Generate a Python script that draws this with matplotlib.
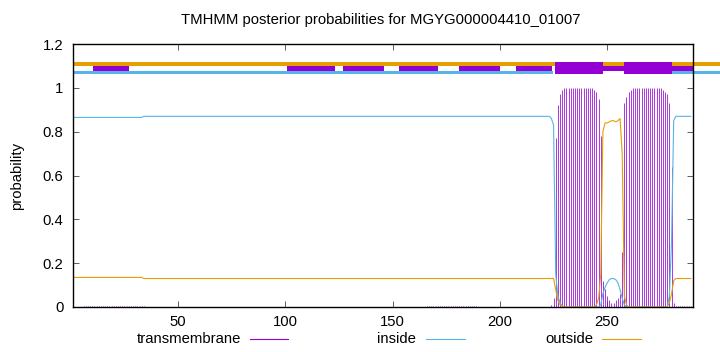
import numpy as np
import matplotlib
matplotlib.use('Agg')
import matplotlib.pyplot as plt
from matplotlib.lines import Line2D

plt.rcParams['font.family'] = ['Liberation Sans', 'DejaVu Sans']

# posterior probabilities per residue (1..289)
inside = ([0.865] * 33 + [0.87] * 190
          + [0.86, 0.83, 0.15, 0.05, 0.02, 0.005]
          + [0.0] * 17
          + [0.01, 0.06, 0.09, 0.11, 0.125, 0.13, 0.13, 0.125, 0.11, 0.08, 0.04, 0.01]
          + [0.0] * 20
          + [0.05, 0.30, 0.85, 0.87]
          + [0.87] * 7)

outside = ([0.135] * 33 + [0.13] * 192
           + [0.08, 0.03, 0.01, 0.005]
           + [0.0] * 15
           + [0.01, 0.04, 0.15, 0.80, 0.84, 0.84, 0.845, 0.85, 0.85, 0.845, 0.85, 0.86, 0.70, 0.05]
           + [0.01] + [0.0] * 19
           + [0.02, 0.06, 0.12, 0.13]
           + [0.13] * 7)

transmembrane = ([0.0] * 5 + [0.004] * 29 + [0.0] * 131 + [0.003] * 24 + [0.0] * 34
                 + [0.01, 0.04, 0.77, 0.92, 0.97, 0.99]
                 + [1.0] * 14
                 + [0.99, 0.98, 0.95, 0.78, 0.12, 0.08, 0.05, 0.03, 0.02, 0.02, 0.03,
                    0.04, 0.06, 0.25, 0.93, 0.96, 0.98, 0.99]
                 + [1.0] * 14
                 + [0.99, 0.98, 0.97, 0.93, 0.64, 0.02, 0.005]
                 + [0.003] * 7)

residues = np.arange(1, len(inside) + 1)
seq_len = 290

# topology bars at the top (start, end)
tm_band = [(10.1, 27.0), (100.8, 123.1), (126.9, 145.9), (153.0, 171.2), (181.0, 200.1),
           (207.4, 224.1), (247.9, 257.8), (280.0, 290.0)]
tm_helix = [(225.9, 247.9), (257.8, 280.0)]
in_band = [(1, 224.7), (280.0, 302.6)]
out_band = [(1, 302.6)]

c_tm = '#9400d3'
c_in = '#56b4e9'
c_out = '#e69f00'
fs = 10.7

fig = plt.figure(figsize=(7.2, 3.52), dpi=100)
ax = fig.add_axes([73 / 720, 1 - 307 / 352, 620 / 720, 263 / 352])

ax.vlines(residues, 0, transmembrane, color=c_tm, lw=0.55)
ax.plot(residues, inside, color=c_in, lw=0.8)
ax.plot(residues, outside, color=c_out, lw=0.8)

def bars(segs, y0, y1, color):
    ax.broken_barh([(a, b - a) for a, b in segs], (y0, y1 - y0),
                   facecolors=color, edgecolor='none', clip_on=False)

bars(out_band, 1.100, 1.117, c_out)
bars(in_band, 1.065, 1.078, c_in)
bars(tm_band, 1.078, 1.100, c_tm)
bars(tm_helix, 1.065, 1.117, c_tm)

ax.set_xlim(1, seq_len)
ax.set_ylim(0, 1.2)
ax.set_xticks([50, 100, 150, 200, 250])
ax.set_yticks([0, 0.2, 0.4, 0.6, 0.8, 1.0, 1.2])
ax.set_yticklabels(['0', '0.2', '0.4', '0.6', '0.8', '1', '1.2'])
ax.tick_params(direction='in', top=True, right=True, length=4, width=0.6,
               labelsize=fs, color='#444444')
ax.tick_params(axis='y', pad=7)
ax.tick_params(axis='x', pad=6)
for sp in ax.spines.values():
    sp.set_linewidth(1.0)

ax.set_ylabel('probability', fontsize=fs)
ax.yaxis.set_label_coords(-0.090, 0.5)
ax.yaxis.label.set_va('center')

fig.text(381 / 720, 1 - 20 / 352, 'TMHMM posterior probabilities for MGYG000004410_01007',
         ha='center', va='center', fontsize=fs)

# legend, gnuplot style: text then line sample
ly = 1 - 339 / 352
for name, color, tx, x0, x1 in [('transmembrane', c_tm, 241, 250, 288),
                                 ('inside', c_in, 416, 426, 465),
                                 ('outside', c_out, 593, 602, 641)]:
    fig.text(tx / 720, ly, name, ha='right', va='center', fontsize=fs)
    fig.add_artist(Line2D([x0 / 720, x1 / 720], [ly, ly], color=color, lw=0.8))

fig.savefig('out.png', dpi=100)
